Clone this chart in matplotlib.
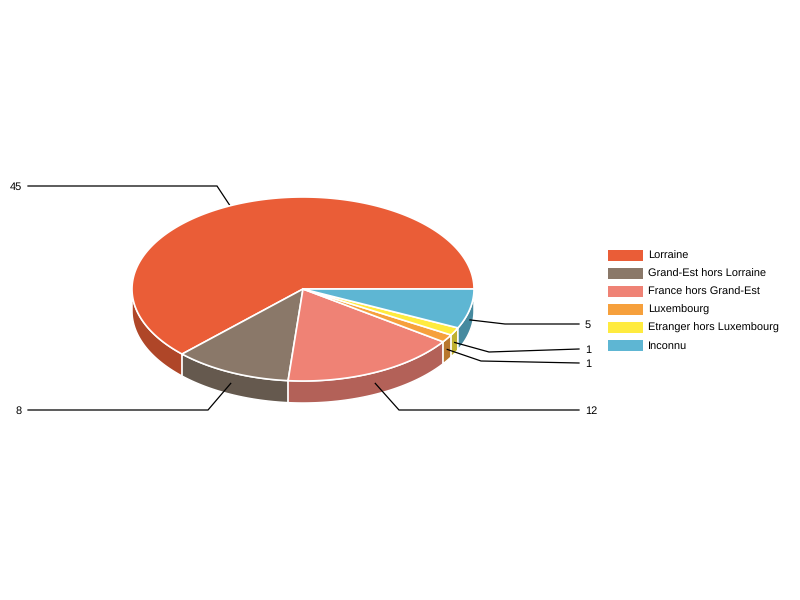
import numpy as np
import matplotlib
matplotlib.use("Agg")
import matplotlib.pyplot as plt
from matplotlib.patches import Polygon, Patch

plt.rcParams['font.family'] = ['Liberation Sans', 'DejaVu Sans']
plt.rcParams['text.hinting'] = 'no_hinting'
plt.rcParams['text.hinting_factor'] = 1

labels = ["Lorraine", "Grand-Est hors Lorraine", "France hors Grand-Est",
          "Luxembourg", "Etranger hors Luxembourg", "Inconnu"]
values = [45, 8, 12, 1, 1, 5]
colors = ["#EA5D37", "#8A7869", "#EF8275", "#F6A03C", "#FFEB3F", "#5EB6D3"]
side_colors = ["#AF4628", "#65594E", "#B36158", "#B8772D", "#BFB02F", "#468A9F"]

# pie geometry, in pixels
cx, cy = 303, 289
rx, ry = 171, 92
depth = 22

# leader lines: elbow and end of each one, then where the label goes
elbow_x = [217, 208, 399, 481, 489, 505]
elbow_y = [186, 410, 410, 361, 352, 324]
end_x = [28, 28, 579, 579, 579, 579]
end_y = [186, 410, 410, 363, 349, 324]


def ellipse(angles):
    a = np.radians(angles)
    return cx + rx * np.cos(a), cy - ry * np.sin(a)


fig = plt.figure(figsize=(8, 6), dpi=100)
ax = fig.add_axes([0, 0, 1, 1])
ax.set_xlim(0, 800)
ax.set_ylim(600, 0)
ax.axis("off")

edges = np.concatenate([[0], np.cumsum(values)]) / np.sum(values) * 360

# leader lines go under the pie
for i in range(len(values)):
    mid = (edges[i] + edges[i + 1]) / 2
    sx, sy = ellipse(mid)
    if mid > 180:
        sy = sy + depth / 2
    else:
        sx = sx - 8  # the top label sits a bit left of the middle of its slice
        sy = sy + 1
    ax.plot([sx, elbow_x[i], end_x[i]], [sy, elbow_y[i], end_y[i]],
            color="black", lw=0.9, zorder=4 if mid > 180 else 1, solid_joinstyle="miter")
    if end_x[i] < cx:
        ax.text(end_x[i] - 6, end_y[i] + 0.7, str(values[i]), ha="right", va="center", fontsize=8, color="black")
    else:
        ax.text(end_x[i] + 6, end_y[i] + 0.7, str(values[i]), ha="left", va="center", fontsize=8, color="black")

# side walls, only the front half of the ellipse shows
for i in range(len(values)):
    a0 = max(edges[i], 180)
    a1 = edges[i + 1]
    if a1 <= a0:
        continue
    ang = np.linspace(a0, a1, 80)
    x, y = ellipse(ang)
    pts = np.column_stack([np.r_[x, x[::-1]], np.r_[y, y[::-1] + depth]])
    ax.add_patch(Polygon(pts, closed=True, facecolor=side_colors[i], edgecolor="white", lw=1.1, zorder=2))

# top of the pie
for i in range(len(values)):
    ang = np.linspace(edges[i], edges[i + 1], 200)
    x, y = ellipse(ang)
    pts = np.column_stack([np.r_[cx, x], np.r_[cy, y]])
    ax.add_patch(Polygon(pts, closed=True, facecolor=colors[i], edgecolor="white", lw=1.2, zorder=3))

handles = [Patch(facecolor=c, edgecolor="none") for c in colors]
ax.legend(handles, labels, loc="center left", bbox_to_anchor=(601 / 800, 1 - 300.5 / 600),
          frameon=False, fontsize=8, handlelength=3.15, handleheight=1.2,
          handletextpad=0.45, labelspacing=0.56, borderpad=0, borderaxespad=0.6)

fig.savefig("out.png", dpi=100)
